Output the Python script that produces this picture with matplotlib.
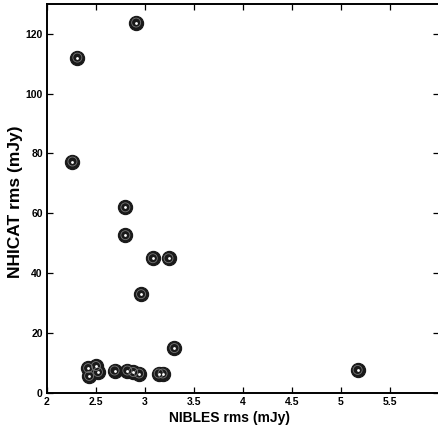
import matplotlib
matplotlib.use("Agg")
import matplotlib.pyplot as plt

nibles_rms = [2.91, 2.31, 2.26, 2.80, 2.80, 3.08, 3.24, 2.96, 3.30,
              2.42, 2.43, 2.50, 2.52, 2.69, 2.82, 2.88, 2.94, 3.14, 3.18, 5.17]
nhicat_rms = [123.7, 112.0, 77.3, 62.0, 52.7, 45.0, 45.0, 33.0, 15.0,
              8.3, 5.7, 9.0, 7.0, 7.5, 7.5, 7.0, 6.5, 6.5, 6.5, 7.7]

x_ticks = [2, 2.5, 3, 3.5, 4, 4.5, 5, 5.5]
x_tick_labels = ["2", "2.5", "3", "3.5", "4", "4.5", "5", "5.5"]
y_ticks = [0, 20, 40, 60, 80, 100, 120]
y_tick_labels = ["0", "20", "40", "60", "80", "100", "120"]

narrow = ["Liberation Sans Narrow", "Liberation Sans", "DejaVu Sans"]
arial = ["Liberation Sans", "DejaVu Sans"]

fig = plt.figure(figsize=(4.39, 4.34), dpi=100)
ax = fig.add_axes([0.107, 0.0945, 0.893, 0.897])

ax.scatter(nibles_rms, nhicat_rms, s=105, c="#1a1a1a", edgecolors="#1a1a1a",
           linewidths=0.8, zorder=3)
ax.scatter(nibles_rms, nhicat_rms, s=42, facecolors="none", edgecolors="#777777",
           linewidths=0.6, zorder=4)
ax.scatter(nibles_rms, nhicat_rms, s=4, c="white", linewidths=0, zorder=5)

ax.set_xlim(2, 6)
ax.set_ylim(0, 130)
ax.set_xticks(x_ticks)
ax.set_xticklabels(x_tick_labels)
ax.set_yticks(y_ticks)
ax.set_yticklabels(y_tick_labels)
ax.tick_params(direction="in", top=True, right=True, length=4, width=0.9,
               labelsize=7.5, pad=3)
for lbl in ax.get_xticklabels() + ax.get_yticklabels():
    lbl.set_fontfamily(narrow)
    lbl.set_fontweight("bold")

for sp in ["left", "bottom", "top"]:
    ax.spines[sp].set_linewidth(1.4)
ax.spines["right"].set_visible(False)

ax.set_xlabel("NIBLES rms (mJy)", fontsize=10, fontweight="bold",
              fontfamily=narrow)
ax.xaxis.set_label_coords(0.465, -0.047, transform=ax.transAxes)
ax.xaxis.label.set_va("top")
ax.set_ylabel("NHICAT rms (mJy)", fontsize=12.5, fontweight="bold",
              fontfamily=arial)
ax.yaxis.set_label_coords(-0.062, 0.49, transform=ax.transAxes)

fig.savefig("out.png", dpi=100)
